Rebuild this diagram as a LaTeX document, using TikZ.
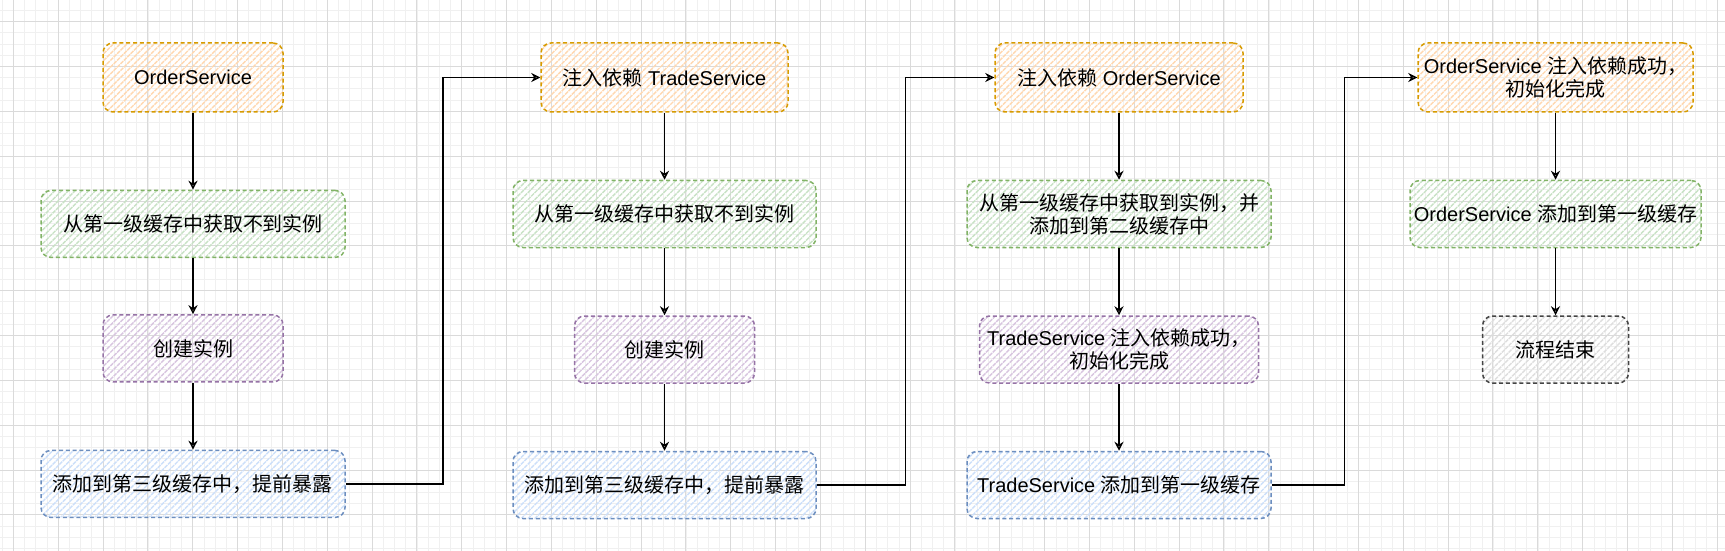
\documentclass[tikz,border=0pt]{standalone}
\usepackage{fontspec}
\setmainfont{Liberation Sans}
\newfontfamily\zhfont{Noto Sans CJK SC}
\newcommand{\zh}[1]{{\zhfont #1}}
\usepackage{xcolor}
\usepackage{tikz}
\usetikzlibrary{arrows.meta, positioning, calc, patterns.meta}

\definecolor{orangeline}{HTML}{D79B00}
\definecolor{orangefill}{HTML}{FFD8B0}
\definecolor{greenline}{HTML}{82B366}
\definecolor{greenfill}{HTML}{C8E2C5}
\definecolor{purpleline}{HTML}{9673A6}
\definecolor{purplefill}{HTML}{D8C5E0}
\definecolor{blueline}{HTML}{6C8EBF}
\definecolor{bluefill}{HTML}{CCDFFA}
\definecolor{greyline}{HTML}{444444}
\definecolor{greyfill}{HTML}{DEDEDE}
\definecolor{majorgrid}{HTML}{DADADA}
\definecolor{minorgrid}{HTML}{F0F0F0}

\begin{document}
\begin{tikzpicture}[x=0.5pt,y=-0.5pt,>={Stealth[open,length=4.5pt,width=4.5pt]},
	node distance=33.5pt,
	box/.style={draw,rounded corners=5pt,dash pattern=on 2pt off 1.4pt,line width=0.75pt,
		inner sep=0pt,minimum height=33.5pt,align=center,
		font=\fontsize{10pt}{11.5pt}\selectfont},
	hatch/.style={pattern={Lines[angle=45,distance=2.4pt,line width=0.7pt]},pattern color=#1},
	orange node/.style={box,draw=orangeline,hatch=orangefill,minimum height=34.5pt},
	green node/.style={box,draw=greenline,hatch=greenfill},
	purple node/.style={box,draw=purpleline,hatch=purplefill},
	blue node/.style={box,draw=blueline,hatch=bluefill},
	grey node/.style={box,draw=greyline,hatch=greyfill},
	flow/.style={->,line width=0.7pt,black},
	minor line/.style={draw=minorgrid,line width=0.5pt},
	major line/.style={draw=majorgrid,line width=0.5pt}]

	\useasboundingbox (0,0) rectangle (1725,551);
	\fill[white] (0,0) rectangle (1725,551);

	% background grid
	\foreach \k in {0,...,153} \draw[minor line] ({2.29+\k*11.21},0) -- ({2.29+\k*11.21},551);
	\foreach \k in {0,...,48} \draw[minor line] (0,{10.49+\k*11.21}) -- (1725,{10.49+\k*11.21});
	\foreach \k in {0,...,38} \draw[major line] ({13.5+\k*44.83},0) -- ({13.5+\k*44.83},551);
	\foreach \k in {0,...,11} \draw[major line] (0,{21.7+\k*44.83}) -- (1725,{21.7+\k*44.83});

	% OrderService
	\node[orange node,minimum width=90pt] (o1) at (193,77.5) {OrderService};
	\node[green node,minimum width=152pt,below=38.5pt of o1] (g1) {\zh{从第一级缓存中获取不到实例}};
	\node[purple node,minimum width=90pt,below=28pt of g1] (p1) {\zh{创建实例}};
	\node[blue node,minimum width=152pt,below=of p1] (b1) {\zh{添加到第三级缓存中，提前暴露}};

	% TradeService
	\node[orange node,minimum width=123.5pt] (o2) at (664.5,77.5) {\zh{注入依赖} TradeService};
	\node[green node,minimum width=151.5pt,below=of o2] (g2) {\zh{从第一级缓存中获取不到实例}};
	\node[purple node,minimum width=90pt,below=of g2] (p2) {\zh{创建实例}};
	\node[blue node,minimum width=151.5pt,below=of p2] (b2) {\zh{添加到第三级缓存中，提前暴露}};

	% OrderService again
	\node[orange node,minimum width=124pt] (o3) at (1119,77.5) {\zh{注入依赖} OrderService};
	\node[green node,minimum width=152pt,below=of o3] (g3) {\zh{从第一级缓存中获取到实例，并}\\\zh{添加到第二级缓存中}};
	\node[purple node,minimum width=139.5pt,below=of g3] (p3) {TradeService \zh{注入依赖成功，}\\\zh{初始化完成}};
	\node[blue node,minimum width=152pt,below=of p3] (b3) {TradeService \zh{添加到第一级缓存}};

	% finish
	\node[orange node,minimum width=137.5pt] (o4) at (1555.5,77.5) {OrderService \zh{注入依赖成功，}\\\zh{初始化完成}};
	\node[green node,minimum width=145.5pt,below=of o4] (g4) {OrderService \zh{添加到第一级缓存}};
	\node[grey node,minimum width=73pt,below=of g4] (e4) {\zh{流程结束}};

	\draw[flow] (o1) -- (g1);
	\draw[flow] (g1) -- (p1);
	\draw[flow] (p1) -- (b1);
	\draw[flow] (b1.east) -| ($(b1.east)!.5!(o2.west)$) |- (o2.west);
	\draw[flow] (o2) -- (g2);
	\draw[flow] (g2) -- (p2);
	\draw[flow] (p2) -- (b2);
	\draw[flow] (b2.east) -| ($(b2.east)!.5!(o3.west)$) |- (o3.west);
	\draw[flow] (o3) -- (g3);
	\draw[flow] (g3) -- (p3);
	\draw[flow] (p3) -- (b3);
	\draw[flow] (b3.east) -| ($(b3.east)!.5!(o4.west)$) |- (o4.west);
	\draw[flow] (o4) -- (g4);
	\draw[flow] (g4) -- (e4);

\end{tikzpicture}
\end{document}
